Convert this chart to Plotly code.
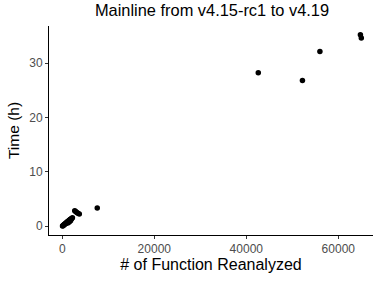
import plotly.graph_objects as go

# Number of functions reanalyzed vs time (hours)
functions = [50, 150, 250, 350, 450, 550, 650, 750, 850, 950, 1050, 1150, 1250, 1350,
             1450, 1550, 1650, 1750, 1850, 1950, 2050, 2200, 1200, 1500, 1800,
             2700, 2900, 3150, 3400, 3700,
             7600, 42600, 52200, 56000, 64800, 65000]
hours = [0.05, 0.12, 0.2, 0.27, 0.33, 0.4, 0.48, 0.55, 0.62, 0.7, 0.78, 0.85, 0.9, 0.97,
         1.05, 1.1, 1.18, 1.25, 1.3, 1.38, 1.45, 1.55, 0.6, 0.8, 1.0,
         2.85, 2.7, 2.55, 2.4, 2.25,
         3.35, 28.2, 26.8, 32.1, 35.2, 34.6]

x_ticks = [0, 20000, 40000, 60000]
y_ticks = [0, 10, 20, 30]

fig = go.Figure(go.Scatter(
    x=functions, y=hours, mode="markers",
    marker=dict(color="black", size=5.5, line=dict(width=0)),
    cliponaxis=False, showlegend=False,
))

axis_common = dict(
    showgrid=False, zeroline=False, showline=True, linecolor="black", linewidth=1,
    ticks="outside", ticklen=3, tickcolor="#333333", tickwidth=1, automargin=False,
    tickfont=dict(family="Liberation Sans, Arial, sans-serif", size=12, color="#4D4D4D"),
)

fig.update_layout(
    width=375, height=282,
    margin=dict(l=49, r=2, t=26, b=47, autoexpand=False),
    plot_bgcolor="white", paper_bgcolor="white",
    font=dict(family="Liberation Sans, Arial, sans-serif", color="black"),
    title=dict(text="Mainline from v4.15-rc1 to v4.19", x=212/375, xanchor="center",
               y=1 - 10/282, yanchor="middle", font=dict(size=16.4, color="black"),
               automargin=False),
    xaxis=dict(range=[-2890, 67540], tickvals=x_ticks, ticktext=[str(v) for v in x_ticks],
               title=dict(text="# of Function Reanalyzed", font=dict(size=16), standoff=3),
               **axis_common),
    yaxis=dict(range=[-1.6, 36.8], tickvals=y_ticks, ticktext=[str(v) for v in y_ticks],
               title=dict(text="Time (h)", font=dict(size=15.5), standoff=5),
               **axis_common),
)

fig.write_html("out.html", config={"displayModeBar": False},
               post_script="document.body.style.margin='0';document.body.style.padding='0';")
